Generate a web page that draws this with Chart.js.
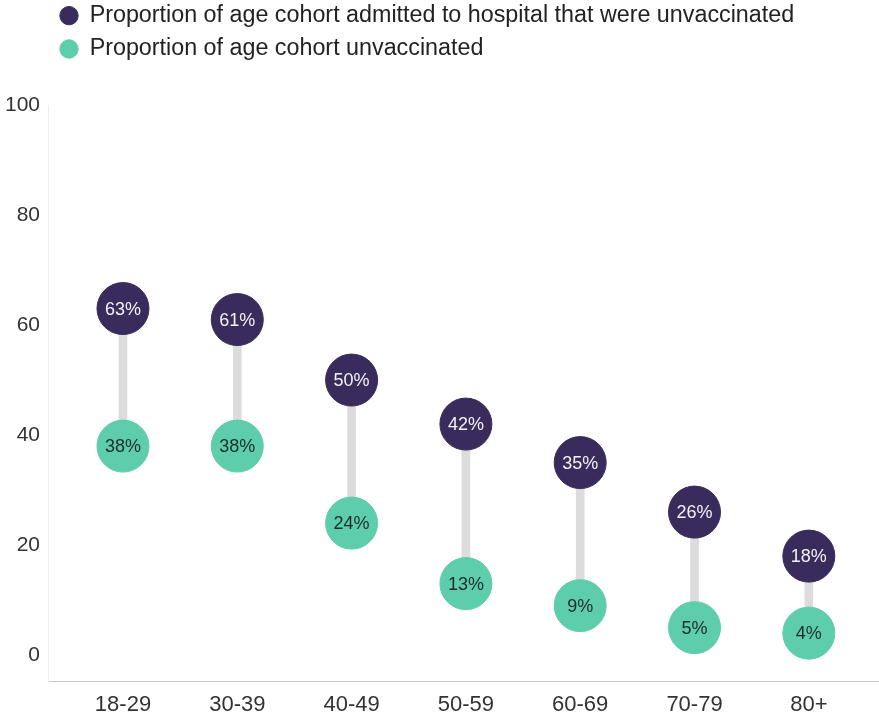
<!DOCTYPE html>
<html>
<head>
<meta charset="utf-8">
<script src="https://cdn.jsdelivr.net/npm/chart.js@4.4.0/dist/chart.umd.min.js"></script>
<style>
  html, body { margin: 0; padding: 0; background: #fff; overflow: hidden; }
  #wrap { width: 879px; height: 713px; }
</style>
</head>
<body>
<div id="wrap"><canvas id="dumbbell"></canvas></div>
<script>
var ageGroups = ['18-29', '30-39', '40-49', '50-59', '60-69', '70-79', '80+'];
var admittedUnvaccinated = [63, 61, 50, 42, 35, 26, 18];
var cohortUnvaccinated = [38, 38, 24, 13, 9, 5, 4];
var yTicks = [0, 20, 40, 60, 80, 100];

var purple = '#3a2b5d';
var teal = '#5dcdab';

Chart.defaults.font.family = '"Liberation Sans", Arial, sans-serif';

// puts the % value inside each dot
var pointLabels = {
    id: 'pointLabels',
    afterDatasetsDraw: function (chart) {
        var ctx = chart.ctx;
        ctx.save();
        ctx.font = '18px "Liberation Sans", Arial, sans-serif';
        ctx.textAlign = 'center';
        ctx.textBaseline = 'middle';
        chart.data.datasets.forEach(function (ds, di) {
            if (!ds.labelColor) return;
            chart.getDatasetMeta(di).data.forEach(function (pt, i) {
                ctx.fillStyle = ds.labelColor;
                ctx.fillText(ds.data[i].y + '%', pt.x, pt.y + 1);
            });
        });
        ctx.restore();
    }
};

// legend sits over the plot's left edge, a bit higher up
var legendTweak = {
    id: 'legendTweak',
    beforeInit: function (chart) {
        var fit = chart.legend.fit;
        chart.legend.fit = function () {
            fit.call(this);
            this.height = 105;
        };
    },
    afterLayout: function (chart) {
        chart.legend.left = 50;
        chart.legend.top = -6;
    }
};

var points = function (arr) {
    return arr.map(function (v, i) { return { x: i, y: v }; });
};

var chart = new Chart(document.getElementById('dumbbell').getContext('2d'), {
    type: 'scatter',
    data: {
        datasets: [{
            label: 'Proportion of age cohort admitted to hospital that were unvaccinated',
            data: points(admittedUnvaccinated),
            backgroundColor: purple,
            borderColor: purple,
            pointRadius: 26,
            pointHoverRadius: 26,
            labelColor: '#f2f2f2',
            order: 1
        }, {
            label: 'Proportion of age cohort unvaccinated',
            data: points(cohortUnvaccinated),
            backgroundColor: teal,
            borderColor: teal,
            pointRadius: 26,
            pointHoverRadius: 26,
            labelColor: '#1e2e2a',
            order: 1
        }, {
            type: 'bar',
            label: 'gap',
            data: ageGroups.map(function (g, i) {
                return { x: i, y: [cohortUnvaccinated[i], admittedUnvaccinated[i]] };
            }),
            backgroundColor: '#dcdcdc',
            barThickness: 8,
            order: 3
        }]
    },
    options: {
        responsive: true,
        maintainAspectRatio: false,
        animation: false,
        layout: { padding: 0, autoPadding: false },
        plugins: {
            tooltip: { enabled: false },
            legend: {
                display: true,
                position: 'top',
                align: 'start',
                labels: {
                    usePointStyle: true,
                    pointStyle: 'circle',
                    boxWidth: 18,
                    boxHeight: 13,
                    padding: 10,
                    color: '#222',
                    font: { size: 23.3 },
                    filter: function (item) { return item.datasetIndex < 2; }
                }
            }
        },
        scales: {
            x: {
                type: 'linear',
                offset: false,
                min: -0.656,
                max: 6.614,
                grid: { display: false, drawTicks: false, offset: false },
                border: { display: true, color: '#c8c8c8', width: 1 },
                afterBuildTicks: function (scale) {
                    scale.ticks = ageGroups.map(function (g, i) { return { value: i }; });
                },
                afterFit: function (scale) { scale.height = 32; },
                ticks: {
                    color: '#333',
                    font: { size: 22 },
                    padding: 11,
                    maxRotation: 0,
                    callback: function (v) { return ageGroups[v]; }
                }
            },
            y: {
                min: -4.7,
                max: 100,
                grid: { display: false, drawTicks: false },
                border: { display: true, color: '#eeeeee', width: 1 },
                afterBuildTicks: function (scale) {
                    scale.ticks = yTicks.map(function (v) { return { value: v }; });
                },
                afterFit: function (scale) { scale.width = 48; },
                ticks: {
                    color: '#333',
                    font: { size: 21 },
                    padding: 8
                }
            }
        }
    },
    plugins: [pointLabels, legendTweak]
});
</script>
</body>
</html>
